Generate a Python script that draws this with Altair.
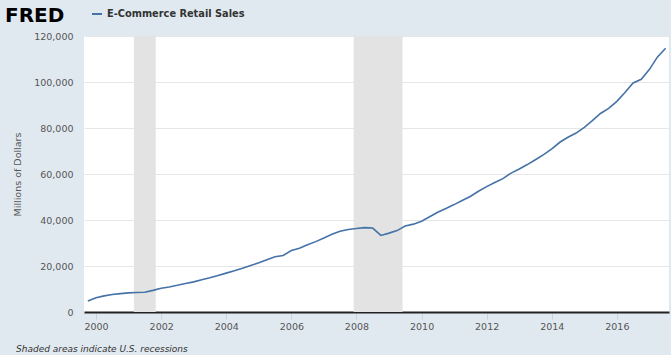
import altair as alt
import pandas as pd

# ---- data ----
start_quarter = "1999-10-01"
sales = [
    4800,
    6200, 7000, 7600, 8000,
    8300, 8500, 8600, 9400,
    10300, 10900, 11600, 12400,
    13100, 14000, 14900, 15900,
    16900, 17900, 19000, 20200,
    21400, 22700, 24000, 24600,
    26700, 27700, 29200, 30600,
    32200, 33800, 35100, 35900,
    36300, 36700, 36500, 33300,
    34300, 35400, 37400, 38200,
    39500, 41400, 43400, 45000,
    46700, 48500, 50200, 52500,
    54500, 56300, 58000, 60400,
    62200, 64100, 66200, 68400,
    70900, 73800, 76000, 77800,
    80300, 83200, 86300, 88500,
    91600, 95400, 99600, 101200,
    105500, 110900, 114700,
]
rec_start = ["2001-03-01", "2007-12-01"]
rec_end = ["2001-11-01", "2009-06-01"]
y_ticks = [0, 20000, 40000, 60000, 80000, 100000, 120000]
x_tick_years = [2000, 2002, 2004, 2006, 2008, 2010, 2012, 2014, 2016]
x_domain = ["1999-08-19", "2017-08-08"]
series_name = ["E-Commerce Retail Sales"]
logo_text = ["FRED"]
y_title = "Millions of Dollars"
footer_text = ["Shaded areas indicate U.S. recessions"]

dates = pd.date_range(start_quarter, periods=len(sales), freq="QS")
df = pd.DataFrame({"date": dates, "value": sales})
rec_df = pd.DataFrame({"start": pd.to_datetime(rec_start), "end": pd.to_datetime(rec_end)})

FONT = "DejaVu Sans"
LINE_COLOR = "#4572a7"

x_scale = alt.Scale(domain=[pd.Timestamp(d).isoformat() for d in x_domain])
tick_vals = [alt.DateTime(year=y, month=1, date=1) for y in x_tick_years]

recessions = alt.Chart(rec_df).mark_rect(color="#e3e3e3").encode(
    x=alt.X("start:T", scale=x_scale),
    x2="end:T",
)

line = alt.Chart(df).mark_line(color=LINE_COLOR, strokeWidth=1.6).encode(
    x=alt.X(
        "date:T",
        scale=x_scale,
        axis=alt.Axis(
            values=tick_vals,
            format="%Y",
            title=None,
            grid=False,
            domainColor="#222222",
            domainWidth=2,
            tickColor="#c8d2e0",
            tickSize=7,
            labelPadding=2,
            labelFont=FONT,
            labelFontSize=9.5,
            labelColor="#555555",
        ),
    ),
    y=alt.Y(
        "value:Q",
        scale=alt.Scale(domain=[0, 120000]),
        axis=alt.Axis(
            values=y_ticks,
            format=",d",
            title=y_title,
            titleFont=FONT,
            titleFontSize=9.5,
            titleFontWeight="normal",
            titleColor="#555555",
            titleX=-67,
            titleY=138,
            titleAngle=-90,
            titleBaseline="middle",
            domain=False,
            ticks=False,
            grid=True,
            gridColor="#e6e6e6",
            labelPadding=11,
            labelFont=FONT,
            labelFontSize=9.5,
            labelColor="#555555",
        ),
    ),
)

logo = alt.Chart(pd.DataFrame({"t": logo_text})).mark_text(
    font=FONT, fontSize=20, fontWeight="bold", color="#000000",
    align="left", baseline="alphabetic",
).encode(text="t:N", x=alt.value(-79), y=alt.value(-14))

legend_dash = alt.Chart(pd.DataFrame({"t": logo_text})).mark_rule(
    color=LINE_COLOR, strokeWidth=2
).encode(x=alt.value(8), x2=alt.value(18), y=alt.value(-22))

legend_text = alt.Chart(pd.DataFrame({"t": series_name})).mark_text(
    font=FONT, fontSize=9.8, fontWeight="bold", color="#333333",
    align="left", baseline="middle",
).encode(text="t:N", x=alt.value(23), y=alt.value(-22))

footer = alt.Chart(pd.DataFrame({"t": footer_text})).mark_text(
    font=FONT, fontSize=9, fontStyle="italic", color="#333333",
    align="left", baseline="middle",
).encode(text="t:N", x=alt.value(-68), y=alt.value(313))

chart = alt.layer(recessions, line, logo, legend_dash, legend_text, footer).properties(
    width=585,
    height=276,
    padding={"left": 84, "top": 36, "right": 2, "bottom": 43},
    autosize=alt.AutoSizeParams(type="none"),
    background="#e1e9f0",
).configure_view(fill="#ffffff", stroke=None)

chart.save("out.html", embed_options={"renderer": "svg", "actions": False})
